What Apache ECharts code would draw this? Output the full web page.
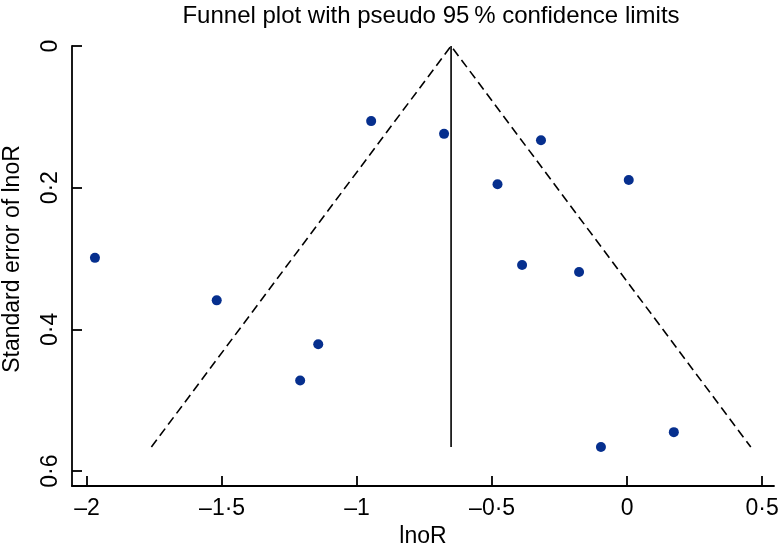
<!DOCTYPE html>
<html>
<head>
<meta charset="utf-8">
<script src="https://cdn.jsdelivr.net/npm/echarts@6/dist/echarts.min.js"></script>
<style>html,body{margin:0;padding:0;background:#fff}#c{width:780px;height:553px}</style>
</head>
<body>
<div id="c"></div>
<script>
// Study estimates (log odds ratio) and their standard errors
const lnOR = [-1.971, -1.520, -0.948, -0.678, -1.144, -1.211, -0.319, -0.480, 0.006, -0.389, -0.178, -0.097, 0.173];
const seLnOR = [0.299, 0.359, 0.106, 0.124, 0.421, 0.472, 0.133, 0.195, 0.189, 0.309, 0.319, 0.566, 0.545];
// Pooled estimate line and pseudo 95% confidence limits
const pooledX = [-0.652, -0.652];
const pooledY = [0, 0.566];
const funnelX = [-1.762, -0.652, 0.458];
const funnelY = [0.566, 0, 0.566];
// Tick values
const xTicks = [-2, -1.5, -1, -0.5, 0, 0.5];
const yTicks = [0, 0.2, 0.4, 0.6];

const fmt = v => String(v).replace('-', '\u2013').replace('.', '\u00b7');
const FONT = 'Liberation Sans, Arial, sans-serif';

const chart = echarts.init(document.getElementById('c'), null, {renderer: 'canvas'});
chart.setOption({
  animation: false,
  backgroundColor: '#ffffff',
  title: {
    text: 'Funnel plot with pseudo 95\u2009% confidence limits',
    left: 426, top: -1, textAlign: 'center',
    textStyle: {fontFamily: FONT, fontSize: 24, fontWeight: 'normal', color: '#000'}
  },
  grid: {left: 72, right: 6, top: 46, bottom: 67, containLabel: false, outerBoundsMode: 'none'},
  xAxis: {
    type: 'value', min: -2.056, max: 0.544,
    name: 'lnoR', nameLocation: 'middle', nameGap: 37,
    nameTextStyle: {fontFamily: FONT, fontSize: 23, color: '#000'},
    splitLine: {show: false},
    axisLine: {show: true, onZero: false, lineStyle: {color: '#000', width: 1.8}},
    axisTick: {show: true, inside: true, length: 10, customValues: xTicks, lineStyle: {color: '#000', width: 1.8}},
    axisLabel: {customValues: xTicks, formatter: fmt, margin: 11, fontFamily: FONT, fontSize: 23, color: '#000'}
  },
  yAxis: {
    type: 'value', inverse: true, min: 0, max: 0.621,
    name: 'Standard error of lnoR', nameLocation: 'middle', nameGap: 48, nameRotate: 90,
    nameTextStyle: {fontFamily: FONT, fontSize: 23, color: '#000', padding: [0, 0, 0, 14]},
    splitLine: {show: false},
    axisLine: {show: true, onZero: false, lineStyle: {color: '#000', width: 1.8}},
    axisTick: {show: true, inside: true, length: 10, customValues: yTicks, lineStyle: {color: '#000', width: 1.8}},
    axisLabel: {customValues: yTicks, formatter: fmt, rotate: 90, margin: 10, fontFamily: FONT, fontSize: 23, color: '#000'}
  },
  series: [
    {
      type: 'line', data: funnelX.map((x, i) => [x, funnelY[i]]),
      symbol: 'none', silent: true,
      lineStyle: {color: '#000', width: 1.6, type: [9, 5]}
    },
    {
      type: 'line', data: pooledX.map((x, i) => [x, pooledY[i]]),
      symbol: 'none', silent: true,
      lineStyle: {color: '#000', width: 1.6}
    },
    {
      type: 'scatter', data: lnOR.map((x, i) => [x, seLnOR[i]]),
      symbol: 'circle', symbolSize: 10,
      itemStyle: {color: '#062f8e', opacity: 1}
    }
  ]
});
</script>
</body>
</html>
